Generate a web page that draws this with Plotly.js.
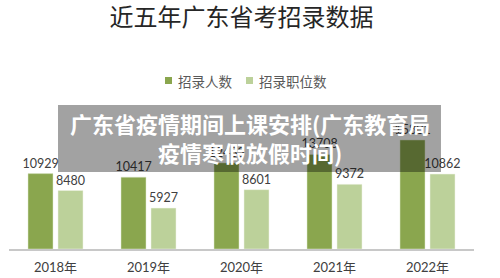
<!DOCTYPE html>
<html>
<head>
<meta charset="utf-8">
<script src="https://cdn.plot.ly/plotly-3.0.1.min.js"></script>
<style>html,body{margin:0;padding:0;background:#fff;}#chart{width:500px;height:278px;}</style>
</head>
<body>
<div id="chart"></div>
<script>
const categories = ['2018年', '2019年', '2020年', '2021年', '2022年'];
const recruitCount = [10929, 10417, 12483, 13708, 15801];
const positionCount = [8480, 5927, 8601, 9372, 10862];
const seriesNames = ['招录人数', '招录职位数'];
const seriesColors = ['#8AA64E', '#BCD19A'];
const chartTitle = '近五年广东省考招录数据';
const overlayText = '广东省疫情期间上课安排(广东教育局<br>疫情寒假放假时间)';

const numFont = {family: 'Lato, "Noto Sans CJK SC", sans-serif', size: 12.5, color: '#404040'};
const legFont = {family: '"Noto Sans CJK SC", sans-serif', size: 13.5, color: '#595959'};

const traces = [
  {
    type: 'bar', name: seriesNames[0], x: categories, y: recruitCount,
    marker: {color: seriesColors[0], line: {color: '#dfe8cf', width: 0.5}},
    text: recruitCount.map(String), textposition: 'outside', cliponaxis: false,
    constraintext: 'none', textfont: numFont, hoverinfo: 'none'
  },
  {
    type: 'bar', name: seriesNames[1], x: categories, y: positionCount,
    marker: {color: seriesColors[1], line: {color: '#eef3e4', width: 0.5}},
    text: positionCount.map(String), textposition: 'outside', cliponaxis: false,
    constraintext: 'none', textfont: numFont, hoverinfo: 'none'
  }
];

// custom legend (compact, like the reference)
const legendShapes = [
  {type: 'rect', xref: 'paper', yref: 'paper', x0: 0.3355, x1: 0.3505, y0: 1.1074, y1: 1.1544,
   fillcolor: seriesColors[0], line: {width: 0}},
  {type: 'rect', xref: 'paper', yref: 'paper', x0: 0.5097, x1: 0.5247, y0: 1.1074, y1: 1.1544,
   fillcolor: seriesColors[1], line: {width: 0}}
];
const legendAnn = [
  {xref: 'paper', yref: 'paper', x: 0.3591, y: 1.1275, xanchor: 'left', yanchor: 'middle',
   showarrow: false, text: seriesNames[0], font: legFont},
  {xref: 'paper', yref: 'paper', x: 0.5333, y: 1.1275, xanchor: 'left', yanchor: 'middle',
   showarrow: false, text: seriesNames[1], font: legFont}
];

const layout = {
  width: 500, height: 278,
  margin: {l: 9, r: 26, t: 100, b: 29},
  paper_bgcolor: '#ffffff', plot_bgcolor: '#ffffff',
  barmode: 'group', bargap: 0.355, bargroupgap: 0.167,
  showlegend: false,
  title: {
    text: chartTitle, x: 0.5, xref: 'paper', xanchor: 'center',
    y: 0.935, yref: 'container', yanchor: 'middle',
    font: {family: '"Noto Sans CJK SC", sans-serif', size: 24, color: '#262626'}
  },
  xaxis: {
    type: 'category', showgrid: false, zeroline: false,
    showline: true, linecolor: '#c8c8c8', linewidth: 2,
    ticks: '', ticklabelstandoff: 5,
    tickfont: {family: 'Lato, "Noto Sans CJK SC", sans-serif', size: 13, color: '#404040'},
    fixedrange: true
  },
  yaxis: {
    range: [0, 21600], visible: false, showgrid: false, zeroline: false, fixedrange: true
  },
  shapes: legendShapes.concat([{
    type: 'rect', xref: 'paper', yref: 'paper',
    x0: 0.1054, x1: 0.929, y0: 0.517, y1: 0.966,
    fillcolor: 'rgba(0,0,0,0.365)', line: {width: 0}, layer: 'above'
  }]),
  annotations: legendAnn.concat([{
    xref: 'paper', yref: 'paper', x: 0.518, y: 0.745,
    xanchor: 'center', yanchor: 'middle', showarrow: false,
    text: '<b>' + overlayText + '</b>', align: 'center',
    font: {family: '"Noto Sans CJK SC", sans-serif', size: 22, color: '#ffffff'}
  }])
};

Plotly.newPlot('chart', traces, layout, {displayModeBar: false, staticPlot: true});
</script>
</body>
</html>
